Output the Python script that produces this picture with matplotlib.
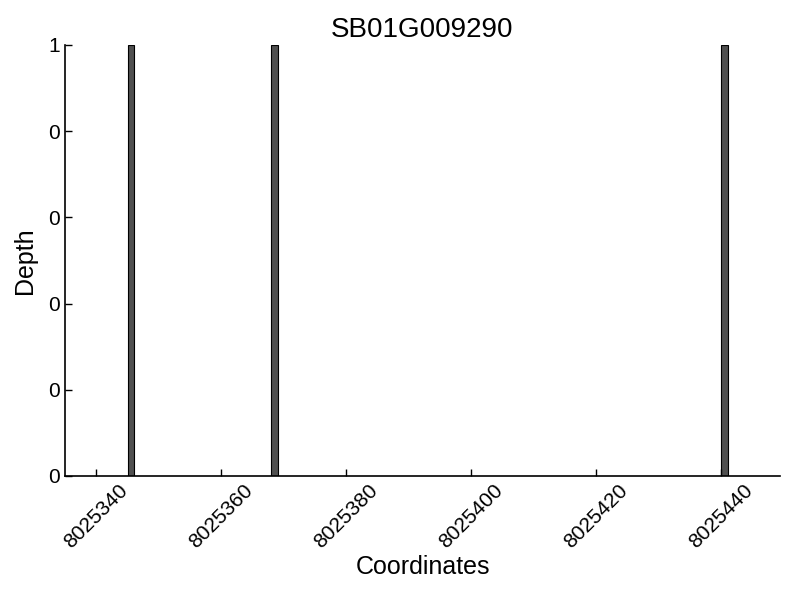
import matplotlib
matplotlib.use("Agg")
import matplotlib.pyplot as plt
from matplotlib.ticker import FormatStrFormatter

title = "SB01G009290"
positions = [8025345, 8025368, 8025440]
depths = [1, 1, 1]
xticks = [8025340, 8025360, 8025380, 8025400, 8025420, 8025440]
yticks = [0, 0.2, 0.4, 0.6, 0.8, 1.0]

plt.rcParams['font.family'] = ['Liberation Sans', 'DejaVu Sans']

fig = plt.figure(figsize=(8, 6), dpi=100)
ax = fig.add_axes([0.08125, 0.2067, 0.89375, 0.7183])
ax.bar(positions, depths, width=1.1, align='edge', color='#505050', edgecolor='black', linewidth=0.8)
ax.set_xlim(8025335.0, 8025449.4)
ax.set_ylim(0, 1)
ax.set_xticks(xticks)
ax.set_xticklabels([str(x) for x in xticks], rotation=45, fontsize=15)
ax.set_yticks(yticks)
ax.yaxis.set_major_formatter(FormatStrFormatter('%d'))
ax.tick_params(axis='y', labelsize=15)
ax.tick_params(direction='in', length=5, width=1, top=False, right=False)
ax.spines['top'].set_visible(False)
ax.spines['right'].set_visible(False)
for s in ('left', 'bottom'):
    ax.spines[s].set_linewidth(1.2)
ax.set_xlabel("Coordinates", fontsize=18, labelpad=2)
ax.set_ylabel("Depth", fontsize=18, labelpad=8)
ax.set_title(title, fontsize=20)
fig.savefig("out.png", dpi=100)
